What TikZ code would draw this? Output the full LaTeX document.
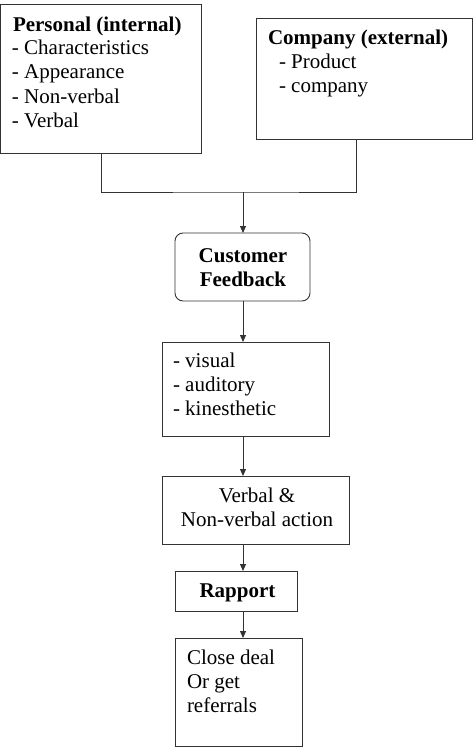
\documentclass[tikz,border=0pt]{standalone}
\usepackage{fontspec}
\setmainfont{Liberation Serif}
\usetikzlibrary{arrows.meta}
\tikzset{
  box/.style={draw=black!80, line width=0.9pt, rectangle, inner sep=0pt, outer sep=0pt, anchor=north west},
  rbox/.style={box, rounded corners=8pt},
  txt/.style={inner sep=0pt, outer sep=0pt, anchor=base west, font=\fontsize{21}{24}\selectfont},
  ctxt/.style={txt, anchor=base},
  btxt/.style={txt, font=\fontsize{21}{24}\selectfont\bfseries},
  bctxt/.style={ctxt, font=\fontsize{21}{24}\selectfont\bfseries},
  conn/.style={draw=black!80, line width=0.9pt},
  arr/.style={conn, -{Triangle[length=7pt,width=6pt]}}
}
\begin{document}
\begin{tikzpicture}[x=1pt,y=-1pt]
\useasboundingbox (0,0) rectangle (475,747);
% boxes
\node[box, minimum width=201pt, minimum height=149pt] (P) at (0.7,4) {};
\node[box, minimum width=216pt, minimum height=121pt] (C) at (256,18) {};
\node[rbox, minimum width=135pt, minimum height=68pt] (CF) at (175,233) {};
\node[box, minimum width=167pt, minimum height=94pt] (V) at (162,342) {};
\node[box, minimum width=187pt, minimum height=68pt] (VA) at (162,476) {};
\node[box, minimum width=122pt, minimum height=40pt] (R) at (175,571) {};
\node[box, minimum width=127pt, minimum height=108pt] (CD) at (175,638) {};
% texts
\node[btxt] (p0) at (13,31.5) {Personal (internal)};
\node[txt] (p1) at (12,54.5) {- Characteristics};
\node[txt] (p2) at (12,78.5) {- Appearance};
\node[txt] (p3) at (12,103) {- Non-verbal};
\node[txt] (p4) at (12,127.5) {- Verbal};
\node[btxt] (c0) at (268,44) {Company (external)};
\node[txt] (c1) at (279,68) {- Product};
\node[txt] (c2) at (279,92) {- company};
\node[bctxt] (f1) at (243,262) {Customer};
\node[bctxt] (f2) at (243,286) {Feedback};
\node[txt] (v1) at (173,367) {- visual};
\node[txt] (v2) at (173,391) {- auditory};
\node[txt] (v3) at (173,415) {- kinesthetic};
\node[ctxt] (a1) at (257,502) {Verbal \&};
\node[ctxt] (a2) at (257,526) {Non-verbal action};
\node[bctxt] (r1) at (237.5,597) {Rapport};
\node[txt] (d1) at (187,664) {Close deal};
\node[txt] (d2) at (187,688) {Or get};
\node[txt] (d3) at (187,712) {referrals};
% connectors
\coordinate (j) at (243,192);
\draw[conn] (P.south) |- (j) -| ([xshift=-8pt]C.south);
\draw[arr] (j) -- (j |- CF.north);
\draw[arr] (j |- CF.south) -- (j |- V.north);
\draw[arr] (j |- V.south) -- (j |- VA.north);
\draw[arr] (j |- VA.south) -- (j |- R.north);
\draw[arr] (j |- R.south) -- (j |- CD.north);
\end{tikzpicture}
\end{document}
